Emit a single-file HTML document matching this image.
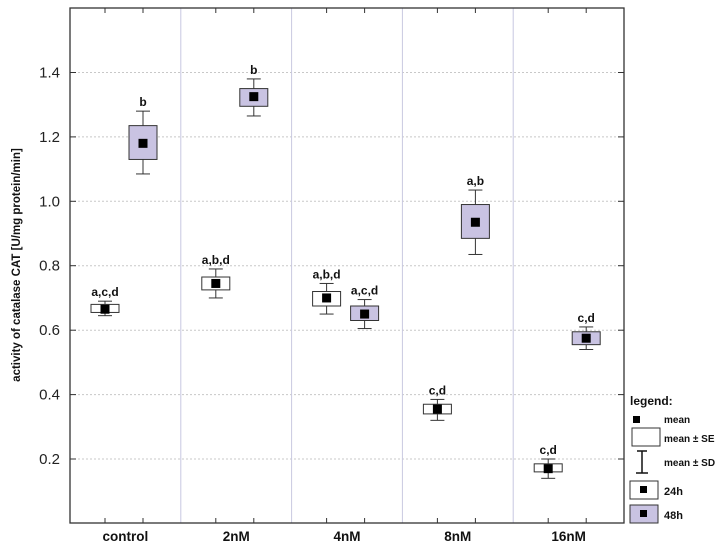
<!DOCTYPE html>
<html><head><meta charset="utf-8"><style>
html,body{margin:0;padding:0;background:#fff;}
svg{display:block;font-family:"Liberation Sans",Arial,sans-serif;}
</style></head><body>
<svg id="s" width="719" height="548" viewBox="0 0 719 548" xmlns="http://www.w3.org/2000/svg"></svg>
<script>
const s=document.getElementById('s');
const L=70,R=624,T=8,B=523;
const y=v=>459-(v-0.2)*322.1;
let h='';
// grid
[0.2,0.4,0.6,0.8,1.0,1.2,1.4].forEach(v=>{
 const yy=y(v).toFixed(1);
 h+=`<line x1="${L}" x2="${R}" y1="${yy}" y2="${yy}" stroke="#c8c8c8" stroke-dasharray="2,2" stroke-width="1"/>`;
 h+=`<line x1="${L}" x2="${L+6}" y1="${yy}" y2="${yy}" stroke="#333"/>`;
 h+=`<line x1="${R-6}" x2="${R}" y1="${yy}" y2="${yy}" stroke="#333"/>`;
 h+=`<text x="60" y="${+yy+5}" font-size="15" text-anchor="end" fill="#222">${v.toFixed(1)}</text>`;
});
const cw=(R-L)/5;
for(let k=1;k<5;k++){const x=(L+cw*k).toFixed(1);h+=`<line x1="${x}" x2="${x}" y1="${T}" y2="${B}" stroke="#c8c8e0" stroke-width="1"/>`;}
const cats=['control','2nM','4nM','8nM','16nM'];
const d=[
 [[0.645,0.655,0.665,0.68,0.69,'a,c,d'],[1.085,1.13,1.18,1.235,1.28,'b']],
 [[0.70,0.725,0.745,0.765,0.79,'a,b,d'],[1.265,1.295,1.325,1.35,1.38,'b']],
 [[0.65,0.675,0.70,0.72,0.745,'a,b,d'],[0.605,0.63,0.65,0.675,0.695,'a,c,d']],
 [[0.32,0.34,0.355,0.37,0.385,'c,d'],[0.835,0.885,0.935,0.99,1.035,'a,b']],
 [[0.14,0.16,0.17,0.185,0.2,'c,d'],[0.54,0.555,0.575,0.595,0.61,'c,d']]
];
d.forEach((c,i)=>{
 const base=L+cw*i;
 [base+35,base+73].forEach(x=>{
  h+=`<line x1="${x}" x2="${x}" y1="${B}" y2="${B-5}" stroke="#333"/>`;
  h+=`<line x1="${x}" x2="${x}" y1="${T}" y2="${T+5}" stroke="#333"/>`;
 });
 h+=`<text x="${base+cw/2}" y="541" font-size="13.5" font-weight="bold" text-anchor="middle" fill="#111">${cats[i]}</text>`;
 c.forEach((b,j)=>{
  const x=j?base+73:base+35;
  const fill=j?'#c9c3e2':'#fff';
  h+=`<line x1="${x}" x2="${x}" y1="${y(b[0])}" y2="${y(b[4])}" stroke="#333"/>`;
  h+=`<line x1="${x-7}" x2="${x+7}" y1="${y(b[0])}" y2="${y(b[0])}" stroke="#333"/>`;
  h+=`<line x1="${x-7}" x2="${x+7}" y1="${y(b[4])}" y2="${y(b[4])}" stroke="#333"/>`;
  h+=`<rect x="${x-14}" y="${y(b[3])}" width="28" height="${y(b[1])-y(b[3])}" fill="${fill}" stroke="#333"/>`;
  h+=`<rect x="${x-4.5}" y="${y(b[2])-4.5}" width="9" height="9" fill="#000"/>`;
  h+=`<text x="${x}" y="${y(b[4])-5}" font-size="12" font-weight="bold" text-anchor="middle" fill="#111">${b[5]}</text>`;
 });
});
h+=`<rect x="${L}" y="${T}" width="${R-L}" height="${B-T}" fill="none" stroke="#333" stroke-width="1.3"/>`;
h+=`<text transform="translate(20,265) rotate(-90)" font-size="11.5" font-weight="bold" text-anchor="middle" fill="#111">activity of catalase CAT [U/mg protein/min]</text>`;
// legend
h+=`<text x="630" y="405" font-size="12" font-weight="bold" fill="#111">legend:</text>`;
h+=`<rect x="633" y="416" width="7" height="7" fill="#000"/><text x="664" y="423" font-size="10" font-weight="bold" fill="#111">mean</text>`;
h+=`<rect x="632" y="428" width="28" height="18" fill="#fff" stroke="#333"/><text x="664" y="442" font-size="10" font-weight="bold" fill="#111">mean ± SE</text>`;
h+=`<line x1="642" x2="642" y1="451" y2="473" stroke="#111" stroke-width="1.5"/><line x1="637" x2="647" y1="451" y2="451" stroke="#111" stroke-width="1.5"/><line x1="636" x2="648" y1="473" y2="473" stroke="#111" stroke-width="1.5"/><text x="664" y="466" font-size="10" font-weight="bold" fill="#111">mean ± SD</text>`;
h+=`<rect x="630" y="481" width="28" height="18" fill="#fff" stroke="#333"/><rect x="640" y="486" width="7" height="7" fill="#000"/><text x="664" y="495" font-size="11" font-weight="bold" fill="#111">24h</text>`;
h+=`<rect x="630" y="505" width="28" height="18" fill="#c9c3e2" stroke="#333"/><rect x="640" y="510" width="7" height="7" fill="#000"/><text x="664" y="519" font-size="11" font-weight="bold" fill="#111">48h</text>`;
s.innerHTML=h;
</script>
</body></html>
